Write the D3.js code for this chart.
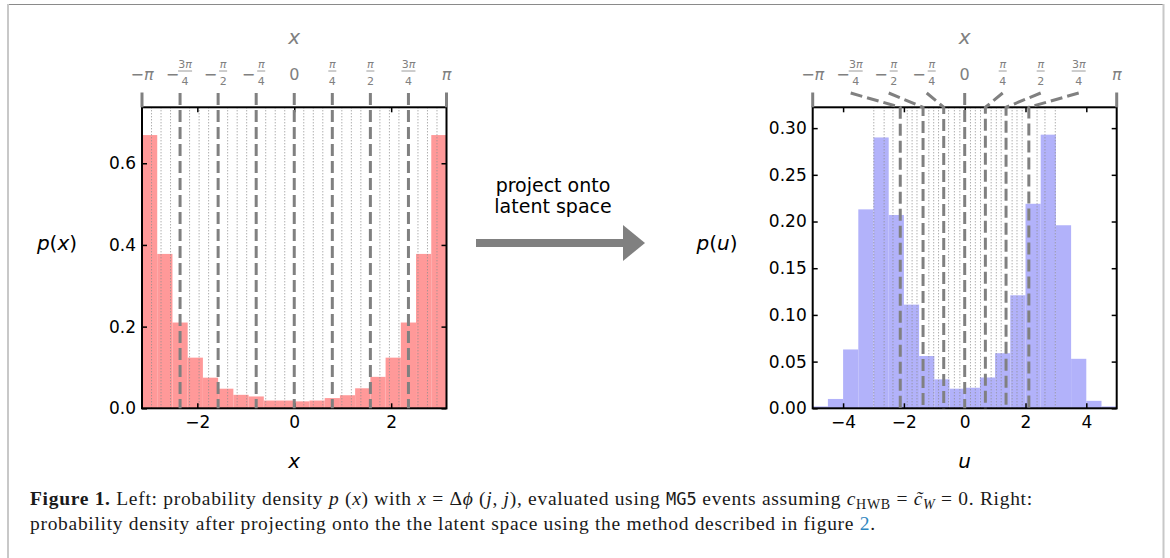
<!DOCTYPE html>
<html>
<head>
<meta charset="utf-8">
<script src="https://cdn.jsdelivr.net/npm/d3@7"></script>
<style>
  body { margin: 0; background: #fff; }
  svg { display: block; }
</style>
</head>
<body>
<svg id="fig" width="1170" height="558"></svg>
<script>
// ---- data ----
// left: p(x), 20 equal bins on [-pi, pi]
const leftRange = [-Math.PI, Math.PI];
const leftDensity = [0.669, 0.378, 0.210, 0.124, 0.075, 0.048, 0.033, 0.029, 0.019, 0.019,
                     0.017, 0.019, 0.025, 0.032, 0.049, 0.077, 0.124, 0.210, 0.378, 0.669];
// right: p(u), 20 equal bins on [-5, 5]
const rightRange = [-5, 5];
const rightDensity = [0.002, 0.010, 0.063, 0.213, 0.290, 0.207, 0.111, 0.056, 0.031, 0.021,
                      0.022, 0.033, 0.059, 0.121, 0.219, 0.293, 0.196, 0.053, 0.008, 0.002];
// grid steps k*pi/16, k = -15..15
const gridSteps = d3.range(-15, 16);
// where each x = k*pi/16 ends up in latent space u
const uGrid = [-2.99, -2.65, -2.36, -2.12, -1.89, -1.73, -1.57, -1.37, -1.18, -1.02, -0.86, -0.69, -0.53, -0.34, -0.16,
               0, 0.19, 0.35, 0.52, 0.68, 0.87, 1.04, 1.20, 1.36, 1.56, 1.72, 1.89, 2.11, 2.38, 2.64, 2.98];
const topTickLabels = ["-π", "-3π/4", "-π/2", "-π/4", "0", "π/4", "π/2", "3π/4", "π"];
const leftXTicks = [-2, 0, 2];
const leftYTicks = [0, 0.2, 0.4, 0.6];
const rightXTicks = [-4, -2, 0, 2, 4];
const rightYTicks = [0, 0.05, 0.10, 0.15, 0.20, 0.25, 0.30];

const svg = d3.select("#fig");
const FONT = "DejaVu Sans";
const GREY = "#808080";

// figure frame
svg.append("line").attr("x1", 7).attr("x2", 1164).attr("y1", 4.5).attr("y2", 4.5)
    .attr("stroke", "#8a8a8a").attr("stroke-width", 1);
svg.append("line").attr("x1", 8).attr("x2", 8).attr("y1", 4).attr("y2", 558)
    .attr("stroke", "#c8c8c8").attr("stroke-width", 2);
svg.append("line").attr("x1", 1163.5).attr("x2", 1163.5).attr("y1", 4).attr("y2", 558)
    .attr("stroke", "#c8c8c8").attr("stroke-width", 2);

// writes "3π" style strings with an italic pi
function piText(sel, s) {
    s.split(/(π)/).filter(p => p.length).forEach(p => {
        const sp = sel.append("tspan").text(p);
        if (p === "π") sp.attr("font-style", "italic");
    });
}

function drawPanel(cfg) {
    const g = svg.append("g");
    const x = d3.scaleLinear().domain(cfg.range).range([cfg.x0, cfg.x1]);
    const y = d3.scaleLinear().domain([0, cfg.yMax]).range([cfg.yBot, cfg.yTop]);
    const top = d3.scaleLinear().domain([-Math.PI, Math.PI]).range([cfg.x0, cfg.x1]);

    const n = cfg.density.length;
    const step = (cfg.range[1] - cfg.range[0]) / n;

    // histogram
    g.selectAll("rect.bar")
        .data(cfg.density)
        .enter()
        .append("rect")
        .attr("class", "bar")
        .attr("x", (d, i) => x(cfg.range[0] + i * step))
        .attr("width", (d, i) => x(cfg.range[0] + (i + 1) * step) - x(cfg.range[0] + i * step))
        .attr("y", d => y(d))
        .attr("height", d => y(0) - y(d))
        .attr("fill", cfg.color);

    // thin dotted grid at k*pi/16
    g.selectAll("line.dot")
        .data(gridSteps.filter(k => k % 4 !== 0))
        .enter()
        .append("line")
        .attr("x1", k => x(cfg.grid(k))).attr("x2", k => x(cfg.grid(k)))
        .attr("y1", cfg.yTop).attr("y2", cfg.yBot)
        .attr("stroke", "#8c8c8c").attr("stroke-width", 1)
        .attr("stroke-dasharray", "1,2");

    // box
    g.append("rect")
        .attr("x", cfg.x0).attr("y", cfg.yTop)
        .attr("width", cfg.x1 - cfg.x0).attr("height", cfg.yBot - cfg.yTop)
        .attr("fill", "none").attr("stroke", "#000").attr("stroke-width", 2);

    // inward ticks on all four sides
    const bottom = g.append("g").attr("transform", `translate(0,${cfg.yBot})`)
        .call(d3.axisBottom(x).tickValues(cfg.xTicks).tickFormat(d3.format("~g")).tickSize(-5).tickPadding(8));
    const left = g.append("g").attr("transform", `translate(${cfg.x0},0)`)
        .call(d3.axisLeft(y).tickValues(cfg.yTicks).tickFormat(d3.format(cfg.yFmt)).tickSize(-5).tickPadding(6));
    g.append("g").attr("transform", `translate(0,${cfg.yTop})`)
        .call(d3.axisTop(x).tickValues(cfg.xTicks).tickSize(-5).tickFormat(""));
    g.append("g").attr("transform", `translate(${cfg.x1},0)`)
        .call(d3.axisRight(y).tickValues(cfg.yTicks).tickSize(-5).tickFormat(""));
    g.selectAll(".domain").remove();
    g.selectAll(".tick line").attr("stroke", "#000").attr("stroke-width", 1.5);
    [bottom, left].forEach(a => a.selectAll("text")
        .attr("font-family", FONT).attr("font-size", 17).attr("fill", "#000"));

    // dashed lines at multiples of pi/4, bent from the top x axis to their position
    const lineGen = d3.line();
    g.selectAll("path.proj")
        .data(gridSteps.filter(k => k % 4 === 0))
        .enter()
        .append("path")
        .attr("d", k => lineGen([
            [top(k * Math.PI / 16), 93],
            [x(cfg.grid(k)), cfg.yTop],
            [x(cfg.grid(k)), cfg.yBot]
        ]))
        .attr("fill", "none")
        .attr("stroke", GREY).attr("stroke-width", 3)
        .attr("stroke-dasharray", "12,5");

    // end ticks at -pi and pi
    g.selectAll("line.end")
        .data([-Math.PI, Math.PI])
        .enter()
        .append("line")
        .attr("x1", d => top(d)).attr("x2", d => top(d))
        .attr("y1", 92.5).attr("y2", cfg.yTop)
        .attr("stroke", GREY).attr("stroke-width", 3);

    // top tick labels
    topTickLabels.forEach((lab, i) => {
        const cx = top(-Math.PI + i * Math.PI / 4);
        const neg = lab.startsWith("-");
        const body = neg ? lab.slice(1) : lab;
        const t = g.append("g").attr("fill", GREY).attr("font-family", FONT);
        if (body.includes("/")) {
            const [num, den] = body.split("/");
            const fx = neg ? cx + 5 : cx;
            if (neg) {
                t.append("text").attr("x", fx - 6).attr("y", 79.5).attr("text-anchor", "end")
                    .attr("font-size", 16).text("\u2212");
            }
            piText(t.append("text").attr("x", fx).attr("y", 67.5).attr("text-anchor", "middle")
                .attr("font-size", 11), num);
            t.append("text").attr("x", fx).attr("y", 84.5).attr("text-anchor", "middle")
                .attr("font-size", 11).text(den);
            t.append("line").attr("x1", fx - (num.length > 1 ? 7 : 4)).attr("x2", fx + (num.length > 1 ? 7 : 4))
                .attr("y1", 71).attr("y2", 71).attr("stroke", GREY).attr("stroke-width", 0.8);
        } else {
            piText(t.append("text").attr("x", cx).attr("y", 79.5).attr("text-anchor", "middle")
                .attr("font-size", 16), (neg ? "\u2212" : "") + body);
        }
    });

    const cx = (cfg.x0 + cfg.x1) / 2;
    // top axis label
    g.append("text").attr("x", cx).attr("y", 44).attr("text-anchor", "middle")
        .attr("font-family", FONT).attr("font-style", "italic").attr("font-size", 20)
        .attr("fill", GREY).text("x");
    // bottom axis label
    g.append("text").attr("x", cx).attr("y", 468).attr("text-anchor", "middle")
        .attr("font-family", FONT).attr("font-style", "italic").attr("font-size", 20)
        .text(cfg.varName);
    // y label p(.)
    const yl = g.append("text").attr("x", cfg.yLabelX).attr("y", 250).attr("text-anchor", "middle")
        .attr("font-family", FONT).attr("font-size", 20);
    yl.append("tspan").attr("font-style", "italic").text("p");
    yl.append("tspan").text("(");
    yl.append("tspan").attr("font-style", "italic").text(cfg.varName);
    yl.append("tspan").text(")");
}

drawPanel({
    range: leftRange, density: leftDensity, color: "#ff9999",
    x0: 142, x1: 446.5, yTop: 107.3, yBot: 408.3, yMax: 0.737,
    grid: k => k * Math.PI / 16,
    xTicks: leftXTicks, yTicks: leftYTicks, yFmt: ".1f",
    varName: "x", yLabelX: 57
});

drawPanel({
    range: rightRange, density: rightDensity, color: "#b2b2fa",
    x0: 812.7, x1: 1116.7, yTop: 107.3, yBot: 408.3, yMax: 0.3223,
    grid: k => uGrid[k + 15],
    xTicks: rightXTicks, yTicks: rightYTicks, yFmt: ".2f",
    varName: "u", yLabelX: 717
});

// arrow between the panels
svg.append("rect").attr("x", 476).attr("y", 239).attr("width", 148).attr("height", 8).attr("fill", GREY);
svg.append("path").attr("d", "M623,225L645,243L623,261Z").attr("fill", GREY);
const arrowText = ["project onto", "latent space"];
svg.selectAll("text.arrow")
    .data(arrowText)
    .enter()
    .append("text")
    .attr("x", 553).attr("y", (d, i) => 192 + i * 21)
    .attr("text-anchor", "middle").attr("font-family", FONT).attr("font-size", 19)
    .text(d => d);

// caption
const cap1 = [
    ["Figure 1.", "b"], [" Left: probability density ", ""], ["p", "i"], [" (", ""], ["x", "i"], [") with ", ""],
    ["x", "i"], [" = Δ", ""], ["ϕ", "i"], [" (", ""], ["j", "i"], [", ", ""], ["j", "i"], ["), evaluated using ", ""],
    ["MG5", "m"], [" events assuming ", ""], ["c", "i"], ["HWB", "sub"], [" = ", ""], ["c̃", "i"], ["W", "subi"],
    [" = 0. Right:", ""]
];
const cap2 = [
    ["probability density after projecting onto the the latent space using the method described in figure ", ""],
    ["2", "link"], [".", ""]
];
function caption(parts, yy) {
    const t = svg.append("text").attr("x", 30).attr("y", yy)
        .attr("font-family", "Liberation Serif").attr("font-size", 19.5)
        .attr("letter-spacing", 0.7).attr("fill", "#1a1a1a");
    let shifted = false;
    parts.forEach(([s, style]) => {
        const sp = t.append("tspan").text(s);
        const sub = style === "sub" || style === "subi";
        if (style === "b") sp.attr("font-weight", "bold");
        if (style === "i" || style === "subi") sp.attr("font-style", "italic");
        if (style === "m") sp.attr("font-family", "DejaVu Sans Mono").attr("font-size", 17).attr("letter-spacing", 0);
        if (style === "link") sp.attr("fill", "#2f86c0");
        if (sub) sp.attr("font-size", 14).attr("dy", 4);
        else if (shifted) sp.attr("dy", -4);
        shifted = sub;
    });
}
caption(cap1, 505);
caption(cap2, 530);
</script>
</body>
</html>
